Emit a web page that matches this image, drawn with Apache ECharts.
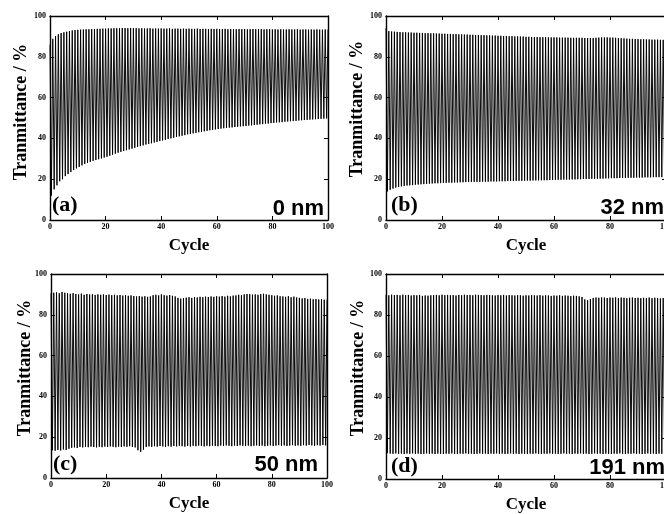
<!DOCTYPE html>
<html>
<head>
<meta charset="utf-8">
<style>
  html, body { margin: 0; padding: 0; background: #fff; }
  #chart { width: 664px; height: 514px; }
</style>
<script src="https://cdn.jsdelivr.net/npm/echarts@6/dist/echarts.min.js"></script>
</head>
<body>
<div id="chart"></div>
<script>
// Transmittance switching over 100 cycles, four films of different thickness.
// For every cycle: bleached (high) and coloured (low) transmittance, in %.

const xTicks = [0, 20, 40, 60, 80, 100];
const yTicks = [0, 20, 40, 60, 80, 100];
const panelTags = ['(a)', '(b)', '(c)', '(d)'];
const thickness = ['0 nm', '32 nm', '50 nm', '191 nm'];
const yTitle = 'Tranmittance / %';
const xTitle = 'Cycle';

const highA = [
  86.0,88.8,90.2,91.0,91.6,92.0,92.3,92.6,92.9,93.1,
  93.2,93.3,93.4,93.5,93.5,93.6,93.6,93.7,93.7,93.8,
  93.8,93.9,93.9,94.0,94.0,94.0,94.1,94.1,94.0,94.1,
  94.0,94.0,93.9,94.0,93.9,93.9,94.0,93.8,93.9,93.8,
  93.9,93.8,93.8,93.9,93.7,93.8,93.8,93.7,93.8,93.7,
  93.8,93.7,93.7,93.8,93.6,93.7,93.7,93.6,93.7,93.6,
  93.7,93.6,93.6,93.7,93.5,93.6,93.6,93.5,93.6,93.5,
  93.6,93.5,93.5,93.6,93.5,93.5,93.6,93.4,93.5,93.5,
  93.4,93.5,93.4,93.5,93.4,93.4,93.5,93.4,93.4,93.5,
  93.3,93.4,93.4,93.3,93.4,93.3,93.4,93.3,93.3,93.4
];
const lowA = [
  12.0,15.0,17.0,19.0,20.0,21.5,22.5,23.5,24.5,25.3,
  26.0,26.8,27.5,28.0,28.5,29.0,29.4,29.8,30.2,30.6,
  31.0,31.5,32.0,32.5,33.0,33.4,33.8,34.2,34.6,35.0,
  35.4,35.8,36.2,36.6,37.0,37.3,37.6,38.0,38.3,38.7,
  39.0,39.3,39.7,40.0,40.3,40.7,41.0,41.3,41.6,42.0,
  42.2,42.5,42.7,43.0,43.2,43.5,43.7,44.0,44.2,44.4,
  44.6,44.8,45.0,45.1,45.3,45.4,45.6,45.7,45.9,46.0,
  46.1,46.3,46.4,46.6,46.7,46.9,47.0,47.2,47.3,47.5,
  47.6,47.8,47.9,48.0,48.2,48.3,48.4,48.5,48.6,48.8,
  48.9,49.0,49.1,49.2,49.3,49.4,49.5,49.6,49.7,49.8
];

const highB = [
  94.0,92.6,92.4,92.3,92.2,92.1,92.0,92.0,91.9,91.9,
  91.8,91.8,91.7,91.7,91.6,91.6,91.5,91.5,91.4,91.4,
  91.3,91.3,91.2,91.2,91.1,91.1,91.0,91.0,90.9,90.9,
  90.8,90.8,90.7,90.7,90.6,90.6,90.5,90.5,90.4,90.4,
  90.3,90.3,90.2,90.2,90.1,90.1,90.0,90.0,89.9,89.9,
  89.8,89.8,89.7,89.7,89.7,89.6,89.6,89.6,89.5,89.5,
  89.5,89.5,89.4,89.4,89.4,89.4,89.3,89.3,89.3,89.3,
  89.3,89.2,89.2,89.2,89.2,89.3,89.4,89.5,89.5,89.5,
  89.4,89.4,89.3,89.2,89.1,89.0,88.9,88.8,88.8,88.7,
  88.7,88.6,88.6,88.5,88.5,88.4,88.4,88.4,88.3,88.3
];
const lowB = [
  14.0,14.8,15.4,15.9,16.2,16.5,16.7,16.9,17.0,17.1,
  17.3,17.4,17.5,17.6,17.7,17.8,17.9,18.0,18.0,18.1,
  18.2,18.2,18.3,18.3,18.4,18.4,18.5,18.5,18.6,18.6,
  18.6,18.7,18.7,18.7,18.8,18.8,18.8,18.9,18.9,18.9,
  19.0,19.0,19.0,19.1,19.1,19.1,19.2,19.2,19.2,19.3,
  19.3,19.3,19.4,19.4,19.4,19.5,19.5,19.5,19.6,19.6,
  19.7,19.7,19.7,19.8,19.8,19.8,19.9,19.9,20.0,20.0,
  20.1,20.1,20.1,20.2,20.2,20.2,20.3,20.3,20.4,20.4,
  20.5,20.5,20.5,20.6,20.6,20.6,20.7,20.7,20.7,20.8,
  20.8,20.8,20.9,20.9,20.9,21.0,21.0,21.0,21.0,21.1
];

const highC = [
  90.5,90.8,91.0,90.6,91.2,90.8,90.5,90.3,90.6,90.2,
  90.0,90.4,89.8,90.2,89.9,90.1,89.7,90.0,89.8,90.0,
  89.7,89.9,89.6,89.8,89.5,89.7,89.4,89.6,89.3,89.5,
  89.2,89.0,89.2,88.9,89.1,88.8,89.0,89.6,89.8,89.5,
  90.0,89.6,89.4,89.7,89.3,89.0,88.3,87.9,88.2,88.4,
  88.6,88.3,88.7,88.5,88.8,88.6,88.9,88.7,89.0,88.8,
  89.1,88.9,89.2,88.9,89.3,89.0,89.4,89.5,89.8,89.6,
  90.0,90.2,90.1,89.9,90.0,89.8,90.1,90.3,90.0,89.8,
  89.6,89.3,89.5,89.1,89.0,88.8,89.1,88.6,88.9,88.5,
  88.3,88.0,88.2,87.8,87.9,87.6,87.7,87.5,87.6,87.4
];
const lowC = [
  13.6,13.4,13.8,13.5,14.0,13.7,14.3,14.8,15.0,14.7,
  15.2,15.0,15.3,15.1,15.4,15.2,15.0,15.3,15.1,15.4,
  15.2,15.5,15.3,15.1,15.4,15.2,15.5,15.3,15.6,15.2,
  15.0,13.6,12.8,13.9,15.2,15.5,15.3,15.6,15.4,15.7,
  15.5,15.3,15.6,15.4,15.7,15.5,15.8,15.6,15.4,15.7,
  15.5,15.8,15.6,15.9,15.7,15.5,15.8,15.6,15.9,15.7,
  15.6,15.9,15.7,16.0,15.8,15.6,15.9,15.7,16.0,15.8,
  15.7,15.9,15.6,15.8,16.0,15.7,15.9,15.6,15.8,16.0,
  15.7,15.9,16.1,15.8,16.0,15.7,15.9,16.1,15.8,16.0,
  15.8,16.1,15.9,16.2,16.0,15.8,16.1,15.9,16.2,16.0
];

const highD = [
  89.8,89.6,89.9,89.7,89.8,89.6,89.9,89.7,89.8,89.5,
  89.7,89.6,89.8,89.3,89.5,89.4,89.6,89.7,89.8,89.6,
  89.9,89.7,89.8,89.6,89.7,89.5,89.8,89.6,89.9,89.7,
  89.8,89.6,89.9,89.8,89.7,89.6,89.8,89.7,89.6,89.5,
  89.7,89.6,89.8,89.5,89.7,89.6,89.5,89.7,89.6,89.4,
  89.6,89.5,89.7,89.6,89.5,89.7,89.4,89.6,89.5,89.3,
  89.5,89.4,89.6,89.3,89.5,89.4,89.2,89.4,89.3,89.1,
  88.8,87.6,87.2,87.8,88.3,88.5,88.4,88.6,88.5,88.3,
  88.5,88.4,88.6,88.3,88.5,88.4,88.2,88.4,88.5,88.3,
  88.4,88.2,88.4,88.3,88.5,88.2,88.4,88.3,88.1,88.3
];
const lowD = [
  12.6,12.4,12.3,12.5,12.3,12.4,12.2,12.4,12.3,12.5,
  12.3,12.4,12.2,12.3,12.5,12.3,12.4,12.2,12.4,12.3,
  12.2,12.4,12.3,12.5,12.3,12.2,12.4,12.3,12.5,12.3,
  12.4,12.2,12.3,12.5,12.3,12.4,12.2,12.4,12.3,12.5,
  12.3,12.4,12.2,12.3,12.5,12.3,12.4,12.2,12.4,12.3,
  12.2,12.4,12.3,12.5,12.3,12.2,12.4,12.3,12.5,12.3,
  12.4,12.2,12.3,12.5,12.3,12.4,12.2,12.4,12.3,12.5,
  12.3,12.4,12.2,12.3,12.5,12.3,12.4,12.2,12.4,12.3,
  12.2,12.4,12.3,12.5,12.3,12.2,12.4,12.3,12.5,12.3,
  12.4,12.2,12.3,12.5,12.3,12.4,12.2,12.4,12.3,12.5
];

const highs = [highA, highB, highC, highD];
const lows = [lowA, lowB, lowC, lowD];

// Plot frames in pixels (the right-hand panels run off the page edge).
const frames = [
  { left: 50,  top: 16,  width: 278, height: 204 },
  { left: 386, top: 16,  width: 280, height: 204 },
  { left: 51,  top: 274, width: 276, height: 204 },
  { left: 386, top: 274, width: 280, height: 205 }
];

const SERIF = "'Liberation Serif', 'Times New Roman', serif";
const SANS = "'Liberation Sans', Arial, sans-serif";

// Each cycle: bleached state at the start, coloured state half way through.
function waveform(high, low) {
  const pts = [];
  for (let i = 0; i < high.length; i++) {
    pts.push([i, high[i]]);
    pts.push([i + 0.5, low[i]]);
  }
  pts.push([high.length, high[high.length - 1]]);
  return pts;
}

const grid = [], xAxis = [], yAxis = [], series = [], graphic = [];

const lineStyle = { color: '#000', width: 1.4 };
const tickStyle = { show: true, inside: true, length: 4, lineStyle: { color: '#000', width: 1 } };
const labelStyle = { fontFamily: SERIF, fontWeight: 'bold', fontSize: 8, color: '#000' };

frames.forEach((f, k) => {
  grid.push(Object.assign({ containLabel: false, outerBoundsMode: 'none' }, f));
  const xBase = {
    type: 'value', gridIndex: k, min: 0, max: 100, interval: 20,
    axisLine: { show: true, onZero: false, lineStyle },
    axisTick: tickStyle, splitLine: { show: false }
  };
  xAxis.push(Object.assign({}, xBase, {
    position: 'bottom',
    axisLabel: Object.assign({ margin: 3, customValues: xTicks }, labelStyle),
    name: xTitle, nameLocation: 'middle', nameGap: 17,
    nameTextStyle: { fontFamily: SERIF, fontWeight: 'bold', fontSize: 17, color: '#000' }
  }));
  xAxis.push(Object.assign({}, xBase, { position: 'top', axisLabel: { show: false } }));
  const yBase = {
    type: 'value', gridIndex: k, min: 0, max: 100, interval: 20,
    axisLine: { show: true, onZero: false, lineStyle },
    axisTick: tickStyle, splitLine: { show: false }
  };
  yAxis.push(Object.assign({}, yBase, {
    position: 'left',
    axisLabel: Object.assign({ margin: 4, customValues: yTicks }, labelStyle)
  }));
  yAxis.push(Object.assign({}, yBase, { position: 'right', axisLabel: { show: false } }));

  series.push({
    type: 'line', xAxisIndex: 2 * k, yAxisIndex: 2 * k,
    data: waveform(highs[k], lows[k]),
    showSymbol: false, symbol: 'none',
    lineStyle: { color: '#000', width: 0.95 },
    emphasis: { disabled: true }, animation: false
  });
});

// Vertical axis titles, panel tags and film thickness labels
const yTitlePos = [[21, 112], [357, 109], [25, 368], [358, 368]];
const tagPos = [[52, 205], [391, 205], [53, 464], [391, 466]];
const thickPos = [[324, 209], [664, 208], [318, 465], [665, 468]];
panelTags.forEach((t, k) => {
  graphic.push({
    type: 'text', x: yTitlePos[k][0], y: yTitlePos[k][1], rotation: Math.PI / 2, z: 100,
    style: { text: yTitle, font: 'bold 18px ' + SERIF, fill: '#000',
             textAlign: 'center', textVerticalAlign: 'middle' }
  });
  graphic.push({
    type: 'text', x: tagPos[k][0], y: tagPos[k][1], z: 100,
    style: { text: t, font: 'bold 22px ' + SERIF, fill: '#000',
             textAlign: 'left', textVerticalAlign: 'middle' }
  });
  graphic.push({
    type: 'text', x: thickPos[k][0], y: thickPos[k][1], z: 100,
    style: { text: thickness[k], font: 'bold 22px ' + SANS, fill: '#000',
             textAlign: 'right', textVerticalAlign: 'middle' }
  });
});

const chart = echarts.init(document.getElementById('chart'), null, { renderer: 'canvas' });
chart.setOption({
  backgroundColor: '#fff',
  animation: false,
  grid, xAxis, yAxis, series, graphic
});
</script>
</body>
</html>
